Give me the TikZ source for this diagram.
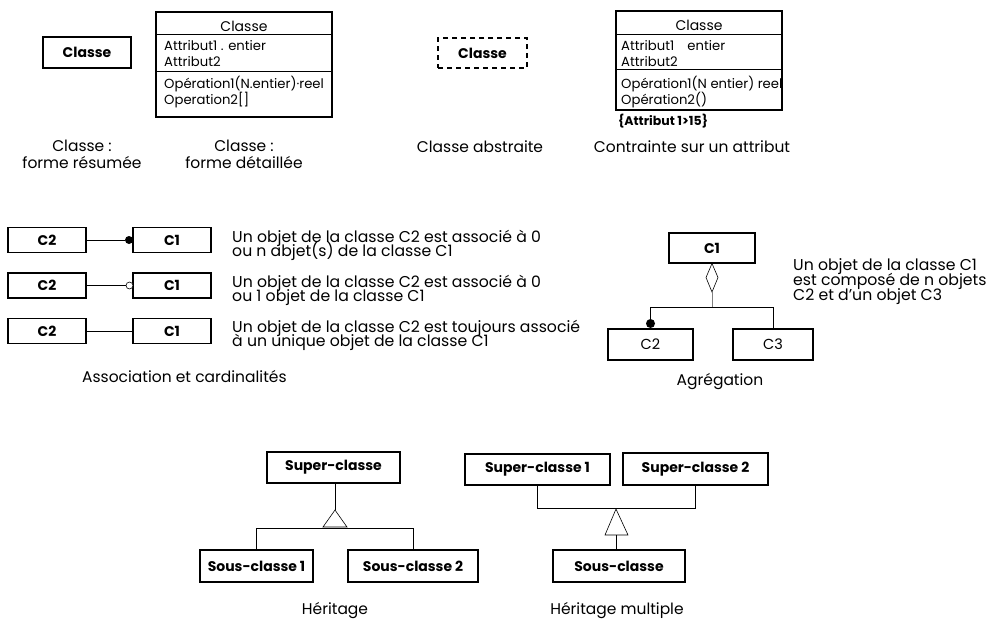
\documentclass[tikz,border=0pt]{standalone}
\usepackage{fontspec}
\setmainfont{Poppins}
\usetikzlibrary{calc}
\begin{document}
\lineskiplimit=-50pt
\begin{tikzpicture}[x=1pt,y=-1pt,
  frame/.style={draw, line width=1.1pt, inner sep=0pt},
  box/.style={frame, font=\fontsize{14}{16}\selectfont\bfseries},
  plainbox/.style={frame, font=\fontsize{14.5}{16}\selectfont},
  member/.style={anchor=base west, inner sep=0pt, font=\fontsize{13.2}{15}\selectfont},
  title/.style={anchor=base, inner sep=0pt, font=\fontsize{14}{16}\selectfont},
  caption/.style={align=center, anchor=base, inner sep=0pt, font=\fontsize{15.5}{16.5}\selectfont},
  desc/.style={anchor=base west, align=left, inner sep=0pt, font=\fontsize{15.7}{14}\selectfont},
  link/.style={line width=0.9pt},
  thinlink/.style={line width=0.6pt}]
\useasboundingbox (0,0) rectangle (996,622);

% ---------- class notations ----------
\node[box, minimum width=88, minimum height=31] (simple) at (87,52.5) {Classe};

\node[frame, minimum width=176, minimum height=105] (det) at (244,64.5) {};
\draw[thinlink] ($(det.north west)+(0,23)$) -- ($(det.north east)+(0,23)$);
\draw[thinlink] ($(det.north west)+(0,60)$) -- ($(det.north east)+(0,60)$);
\node[title] (dettitle) at (244,31) {Classe};
\node[member] (da1) at (164,50) {Attribut1 . entier};
\node[member] (da2) at (164,66) {Attribut2};
\node[member] (do1) at (164,88) {Opération1(N.entier)·reel};
\node[member] (do2) at (164,104) {Operation2[]};

\node[box, dashed, dash pattern=on 5pt off 4pt, minimum width=89, minimum height=30] (abstract) at (482.5,53) {Classe};

\node[frame, minimum width=166, minimum height=99] (con) at (699,60.5) {};
\draw[thinlink] ($(con.north west)+(0,24)$) -- ($(con.north east)+(0,24)$);
\draw[thinlink] ($(con.north west)+(0,59)$) -- ($(con.north east)+(0,59)$);
\node[title] (contitle) at (699,30) {Classe};
\node[member] (ca1) at (621,50) {Attribut1\quad entier};
\node[member] (ca2) at (621,66) {Attribut2};
\node[member] (co1) at (621,88) {Opération1(N entier) reel};
\node[member] (co2) at (621,104) {Opération2()};
\node[member, font=\fontsize{12.5}{14}\selectfont\bfseries] (constraint) at (618,125) {\{Attribut 1>15\}};

\node[caption] (cap1) at (82,168) {Classe :\\forme résumée};
\node[caption] (cap2) at (244,168) {Classe :\\forme détaillée};
\node[caption] (cap3) at (480,152) {Classe abstraite};
\node[caption] (cap4) at (692,152) {Contrainte sur un attribut};

% ---------- associations ----------
\node[box, minimum width=78, minimum height=25] (a2) at (47,240) {C2};
\node[box, minimum width=78, minimum height=25] (a1) at (172,240) {C1};
\node[box, minimum width=78, minimum height=25] (b2) at (47,285.5) {C2};
\node[box, minimum width=78, minimum height=25] (b1) at (172,285.5) {C1};
\node[box, minimum width=78, minimum height=25] (c2) at (47,331) {C2};
\node[box, minimum width=78, minimum height=25] (c1) at (172,331) {C1};

\node[circle, fill, inner sep=0pt, minimum size=8] (dotA) at (129,240) {};
\draw[link] (a2) -- (dotA);
\node[circle, draw, line width=0.6pt, fill=white, inner sep=0pt, minimum size=7] (ringB) at (129.5,285.5) {};
\draw[thinlink] (b2) -- (ringB);
\draw[thinlink] (c2) -- (c1);

\node[desc] (ta) at (232,256) {Un objet de la classe C2 est associé à 0\\ou n abjet(s) de la classe C1};
\node[desc] (tb) at (232,301) {Un objet de la classe C2 est associé à 0\\ou 1 objet de la classe C1};
\node[desc] (tc) at (232,346) {Un objet de la classe C2 est toujours associé\\à un unique objet de la classe C1};
\node[caption, anchor=base west] (capassoc) at (82,382) {Association et cardinalités};

% ---------- aggregation ----------
\node[box, minimum width=86, minimum height=30] (g1) at (712,248) {C1};
\node[plainbox, minimum width=85, minimum height=31] (g2) at (650.5,344.5) {C2};
\node[plainbox, minimum width=80, minimum height=31] (g3) at (773,344.5) {C3};
\coordinate (dtop) at (g1.south);
\coordinate (dright) at (718,277.5);
\coordinate (dbot) at (712,292);
\coordinate (dleft) at (706,277.5);
\coordinate (jl) at (650.5,307);
\coordinate (jr) at (773,307);
\coordinate (jm) at (712,307);
\draw[thinlink] (dtop) -- (dright) -- (dbot) -- (dleft) -- cycle;
\draw[thinlink, gray] (dbot) -- (jm);
\draw[link] (jl) -- (jr);
\node[circle, fill, inner sep=0pt, minimum size=9] (dotG) at (650.5,323.5) {};
\draw[thinlink] (jl) -- (dotG);
\draw[thinlink] (jr) -- (g3.north);
\node[desc, font=\fontsize{15.7}{15}\selectfont] (tg) at (793,300) {Un objet de la classe C1\\est composé de n objets\\C2 et d'un objet C3};
\node[caption] (capagg) at (720,385) {Agrégation};

% ---------- inheritance ----------
\node[box, minimum width=133, minimum height=31] (sup) at (333.5,467.5) {Super-classe};
\node[box, minimum width=113, minimum height=32] (sub1) at (256.5,566) {Sous-classe 1};
\node[box, minimum width=130, minimum height=32] (sub2) at (413,566) {Sous-classe 2};
\coordinate (tapex) at (335,510);
\coordinate (tbl) at (323,527);
\coordinate (tbr) at (347,527);
\coordinate (hl) at (256.5,528);
\coordinate (hr) at (413,528);
\draw[link] (sup.south -| tapex) -- (tapex);
\draw[thinlink] (tapex) -- (tbr) -- (tbl) -- cycle;
\draw[thinlink] (hl) -- (hr);
\draw[thinlink] (hl) -- (sub1.north);
\draw[thinlink] (hr) -- (sub2.north);
\node[caption] (capher) at (335,614) {Héritage};

% ---------- multiple inheritance ----------
\node[box, minimum width=145, minimum height=31] (msup1) at (537.5,469.5) {Super-classe 1};
\node[box, minimum width=145, minimum height=32] (msup2) at (695.5,469) {Super-classe 2};
\node[box, minimum width=132, minimum height=32] (msub) at (619,566) {Sous-classe};
\coordinate (ml) at (537.5,508);
\coordinate (mr) at (695.5,508);
\coordinate (mapex) at (616,509);
\coordinate (mbl) at (605,535);
\coordinate (mbr) at (628,535);
\coordinate (mbase) at (616,535);
\draw[thinlink] (msup1.south) -- (ml) -- (mr) -- (msup2.south);
\draw[thinlink] (mapex) -- (mbr) -- (mbl) -- cycle;
\draw[thinlink] (mbase) -- (msub.north -| mbase);
\node[caption] (capmult) at (617,614) {Héritage multiple};
\end{tikzpicture}
\end{document}
